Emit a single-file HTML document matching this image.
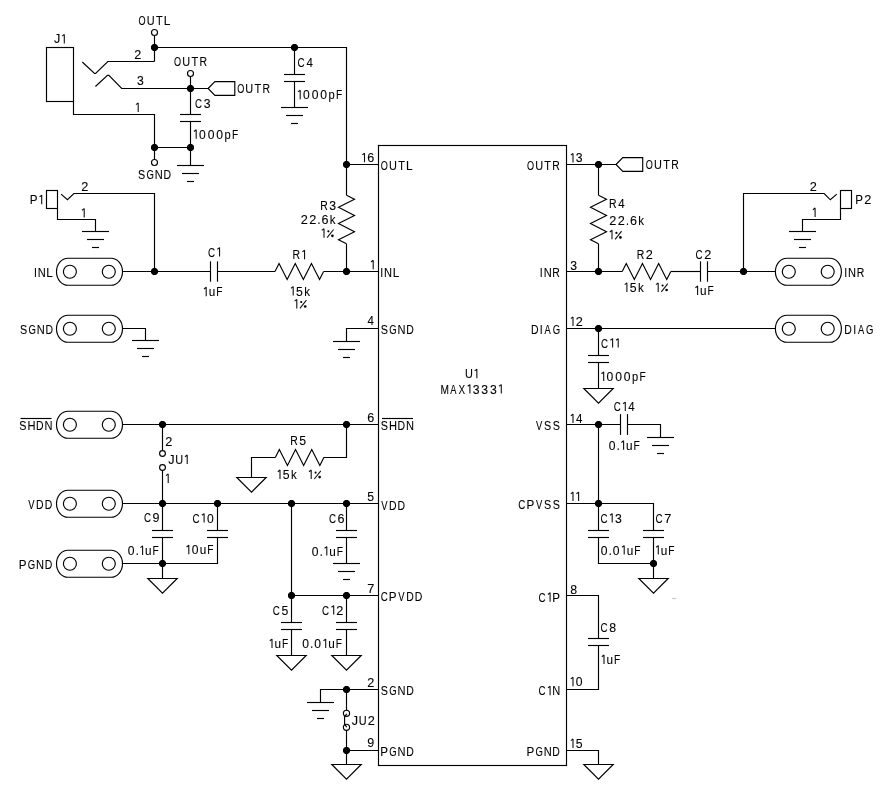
<!DOCTYPE html>
<html><head><meta charset="utf-8"><style>
html,body{margin:0;padding:0;background:#fff;overflow:hidden;width:884px;height:793px;}
svg{display:block;will-change:transform;}
text{font-family:"Liberation Sans",sans-serif;font-size:13.4px;fill:#000;stroke:#000;stroke-width:0.1px;}
</style></head><body>
<svg width="884" height="793" viewBox="0 0 884 793">
<rect width="884" height="793" fill="#fff"/>
<g fill="none" stroke="#000" stroke-width="1.15" stroke-linejoin="miter">
<text transform="translate(138.57 25.00) scale(0.678 1)">O</text>
<text transform="translate(146.76 25.00) scale(0.815 1)">U</text>
<text transform="translate(155.95 25.00) scale(0.818 1)">T</text>
<text transform="translate(163.83 25.00) scale(0.880 1)">L</text>
<circle cx="154.50" cy="32.50" r="3"/>
<path d="M154.50 35.50 L154.50 61.50"/>
<path d="M154.50 47.50 L346.50 47.50 L346.50 195.20"/>
<path fill="#000" stroke="none" d="M153.00 44.00 L156.00 44.00 L158.00 46.00 L158.00 49.00 L156.00 51.00 L153.00 51.00 L151.00 49.00 L151.00 46.00Z"/>
<path fill="#000" stroke="none" d="M293.00 44.00 L296.00 44.00 L298.00 46.00 L298.00 49.00 L296.00 51.00 L293.00 51.00 L291.00 49.00 L291.00 46.00Z"/>
<path d="M294.50 47.50 L294.50 74.50"/>
<path d="M284.00 74.50 L305.00 74.50"/>
<path d="M284.00 81.50 L305.00 81.50"/>
<path d="M294.50 81.50 L294.50 107.50"/>
<path d="M281.00 107.50 L308.00 107.50"/>
<path d="M286.00 115.50 L303.00 115.50"/>
<path d="M291.00 123.50 L298.00 123.50"/>
<text transform="translate(297.50 66.60) scale(0.731 1)">C</text>
<text transform="translate(306.54 66.60) scale(0.859 1)">4</text>
<path stroke="#111" stroke-width="1.1" stroke-linejoin="bevel" d="M300.20 99.20 L300.20 90.20 L298.00 91.90"/>
<text transform="translate(303.03 99.20) scale(0.905 1)">0</text>
<text transform="translate(311.63 99.20) scale(0.905 1)">0</text>
<text transform="translate(320.23 99.20) scale(0.905 1)">0</text>
<text transform="translate(328.48 99.20) scale(0.830 1)">p</text>
<text transform="translate(335.96 99.20) scale(0.763 1)">F</text>
<path d="M82.30 62.00 L94.50 73.50 L95.60 73.50 L107.80 61.50 L154.50 61.50"/>
<text transform="translate(134.36 58.60) scale(0.950 1)">2</text>
<path d="M95.40 86.50 L107.50 75.40 L108.90 75.40 L121.70 88.50 L208.10 88.50"/>
<text transform="translate(137.03 85.40) scale(0.913 1)">3</text>
<text transform="translate(174.07 66.20) scale(0.678 1)">O</text>
<text transform="translate(182.26 66.20) scale(0.815 1)">U</text>
<text transform="translate(191.45 66.20) scale(0.818 1)">T</text>
<text transform="translate(199.44 66.20) scale(0.779 1)">R</text>
<circle cx="190.50" cy="73.50" r="3"/>
<path d="M190.50 76.50 L190.50 114.50"/>
<path fill="#000" stroke="none" d="M189.00 85.00 L192.00 85.00 L194.00 87.00 L194.00 90.00 L192.00 92.00 L189.00 92.00 L187.00 90.00 L187.00 87.00Z"/>
<path d="M208.10 88.50 L214.90 81.60 L234.80 81.60 L234.80 95.40 L214.90 95.40Z"/>
<text transform="translate(237.17 93.40) scale(0.678 1)">O</text>
<text transform="translate(245.36 93.40) scale(0.815 1)">U</text>
<text transform="translate(254.55 93.40) scale(0.818 1)">T</text>
<text transform="translate(262.54 93.40) scale(0.779 1)">R</text>
<path d="M180.00 114.50 L201.00 114.50"/>
<path d="M180.00 121.50 L201.00 121.50"/>
<path d="M190.50 121.50 L190.50 165.50"/>
<path d="M177.00 165.50 L204.00 165.50"/>
<path d="M182.00 173.50 L199.00 173.50"/>
<path d="M187.00 181.50 L194.00 181.50"/>
<text transform="translate(195.00 108.10) scale(0.731 1)">C</text>
<text transform="translate(203.83 108.10) scale(0.913 1)">3</text>
<path stroke="#111" stroke-width="1.1" stroke-linejoin="bevel" d="M196.20 138.80 L196.20 129.80 L194.00 131.50"/>
<text transform="translate(199.03 138.80) scale(0.905 1)">0</text>
<text transform="translate(207.63 138.80) scale(0.905 1)">0</text>
<text transform="translate(216.23 138.80) scale(0.905 1)">0</text>
<text transform="translate(224.48 138.80) scale(0.830 1)">p</text>
<text transform="translate(231.96 138.80) scale(0.763 1)">F</text>
<rect x="46.5" y="47.5" width="27" height="54"/>
<text transform="translate(54.00 43.40) scale(0.946 1)">J</text>
<path stroke="#111" stroke-width="1.1" stroke-linejoin="bevel" d="M64.30 43.40 L64.30 34.40 L62.10 36.10"/>
<path d="M73.50 101.50 L73.50 114.50 L154.50 114.50 L154.50 159.50"/>
<path stroke="#111" stroke-width="1.1" stroke-linejoin="bevel" d="M138.20 111.90 L138.20 102.90 L136.00 104.60"/>
<path d="M154.50 147.50 L190.50 147.50"/>
<path fill="#000" stroke="none" d="M153.00 144.00 L156.00 144.00 L158.00 146.00 L158.00 149.00 L156.00 151.00 L153.00 151.00 L151.00 149.00 L151.00 146.00Z"/>
<path fill="#000" stroke="none" d="M189.00 144.00 L192.00 144.00 L194.00 146.00 L194.00 149.00 L192.00 151.00 L189.00 151.00 L187.00 149.00 L187.00 146.00Z"/>
<circle cx="154.50" cy="162.50" r="3"/>
<text transform="translate(138.01 179.20) scale(0.804 1)">S</text>
<text transform="translate(146.62 179.20) scale(0.709 1)">G</text>
<text transform="translate(154.79 179.20) scale(0.828 1)">N</text>
<text transform="translate(163.44 179.20) scale(0.781 1)">D</text>
<rect x="46.5" y="190.5" width="11" height="18"/>
<text transform="translate(29.64 204.20) scale(0.869 1)">P</text>
<path stroke="#111" stroke-width="1.1" stroke-linejoin="bevel" d="M41.70 204.20 L41.70 195.20 L39.50 196.90"/>
<path d="M61.10 194.10 L67.40 199.60 L73.90 193.50 L154.50 193.50 L154.50 271.50"/>
<text transform="translate(81.36 191.00) scale(0.950 1)">2</text>
<path d="M57.50 208.50 L57.50 219.50 L95.50 219.50 L95.50 231.50"/>
<path d="M82.00 231.50 L109.00 231.50"/>
<path d="M87.00 239.50 L104.00 239.50"/>
<path d="M92.00 247.50 L99.00 247.50"/>
<path stroke="#111" stroke-width="1.1" stroke-linejoin="bevel" d="M84.20 217.60 L84.20 208.60 L82.00 210.30"/>
<path d="M68.00 258.25 L111.00 258.25 A11.5 13.5 0 0 1 111.00 285.25 L68.00 285.25 A11.5 13.5 0 0 1 68.00 258.25Z"/>
<circle cx="69.90" cy="271.75" r="6.5"/>
<circle cx="108.80" cy="271.75" r="6.5"/>
<text transform="translate(33.93 276.60) scale(0.790 1)">I</text>
<text transform="translate(37.79 276.60) scale(0.828 1)">N</text>
<text transform="translate(46.33 276.60) scale(0.880 1)">L</text>
<path d="M122.50 271.50 L210.50 271.50"/>
<path fill="#000" stroke="none" d="M153.00 268.00 L156.00 268.00 L158.00 270.00 L158.00 273.00 L156.00 275.00 L153.00 275.00 L151.00 273.00 L151.00 270.00Z"/>
<path d="M210.50 261.30 L210.50 281.70"/>
<path d="M217.50 261.30 L217.50 281.70"/>
<text transform="translate(207.95 256.60) scale(0.731 1)">C</text>
<path stroke="#111" stroke-width="1.1" stroke-linejoin="bevel" d="M219.55 256.60 L219.55 247.60 L217.35 249.30"/>
<path stroke="#111" stroke-width="1.1" stroke-linejoin="bevel" d="M206.20 296.30 L206.20 287.30 L204.00 289.00"/>
<text transform="translate(208.64 296.30) scale(0.878 1)">u</text>
<text transform="translate(216.16 296.30) scale(0.763 1)">F</text>
<path d="M217.50 271.50 L275.00 271.50"/>
<path d="M275.00 271.50 L279.05 263.50 L287.15 279.50 L295.25 263.50 L303.35 279.50 L311.45 263.50 L319.55 279.50 L323.60 271.50"/>
<path d="M323.60 271.50 L378.50 271.50"/>
<text transform="translate(292.59 259.20) scale(0.779 1)">R</text>
<path stroke="#111" stroke-width="1.1" stroke-linejoin="bevel" d="M304.55 259.20 L304.55 250.20 L302.35 251.90"/>
<path stroke="#111" stroke-width="1.1" stroke-linejoin="bevel" d="M293.20 295.60 L293.20 286.60 L291.00 288.30"/>
<text transform="translate(296.01 295.60) scale(0.913 1)">5</text>
<text transform="translate(304.22 295.60) scale(0.860 1)">k</text>
<path stroke="#111" stroke-width="1.1" stroke-linejoin="bevel" d="M296.80 308.40 L296.80 299.40 L294.60 301.10"/>
<path stroke="#111" stroke-width="1.1" stroke-linejoin="bevel" d="M299.90 308.40 L306.40 300.20"/>
<circle fill="#000" stroke="none" cx="301.20" cy="302.00" r="1.1"/>
<circle fill="#000" stroke="none" cx="305.20" cy="306.50" r="1.35"/>
<path fill="#000" stroke="none" d="M345.00 268.00 L348.00 268.00 L350.00 270.00 L350.00 273.00 L348.00 275.00 L345.00 275.00 L343.00 273.00 L343.00 270.00Z"/>
<path d="M346.50 195.20 L354.50 199.25 L338.50 207.35 L354.50 215.45 L338.50 223.55 L354.50 231.65 L338.50 239.75 L346.50 243.80"/>
<path d="M346.50 243.80 L346.50 271.50"/>
<path d="M346.50 164.50 L378.50 164.50"/>
<path fill="#000" stroke="none" d="M345.00 161.00 L348.00 161.00 L350.00 163.00 L350.00 166.00 L348.00 168.00 L345.00 168.00 L343.00 166.00 L343.00 163.00Z"/>
<text transform="translate(320.14 209.50) scale(0.779 1)">R</text>
<text transform="translate(329.33 209.50) scale(0.913 1)">3</text>
<text transform="translate(300.66 223.80) scale(0.950 1)">2</text>
<text transform="translate(309.26 223.80) scale(0.950 1)">2</text>
<text transform="translate(317.43 223.80) scale(0.790 1)">.</text>
<text transform="translate(321.46 223.80) scale(0.938 1)">6</text>
<text transform="translate(329.82 223.80) scale(0.860 1)">k</text>
<path stroke="#111" stroke-width="1.1" stroke-linejoin="bevel" d="M324.00 237.70 L324.00 228.70 L321.80 230.40"/>
<path stroke="#111" stroke-width="1.1" stroke-linejoin="bevel" d="M327.10 237.70 L333.60 229.50"/>
<circle fill="#000" stroke="none" cx="328.40" cy="231.30" r="1.1"/>
<circle fill="#000" stroke="none" cx="332.40" cy="235.80" r="1.35"/>
<path d="M68.00 315.25 L111.00 315.25 A11.5 13.5 0 0 1 111.00 342.25 L68.00 342.25 A11.5 13.5 0 0 1 68.00 315.25Z"/>
<circle cx="69.90" cy="328.75" r="6.5"/>
<circle cx="108.80" cy="328.75" r="6.5"/>
<text transform="translate(20.01 334.10) scale(0.804 1)">S</text>
<text transform="translate(28.62 334.10) scale(0.709 1)">G</text>
<text transform="translate(36.79 334.10) scale(0.828 1)">N</text>
<text transform="translate(45.44 334.10) scale(0.781 1)">D</text>
<path d="M122.50 328.50 L145.50 328.50 L145.50 340.50"/>
<path d="M132.00 340.50 L159.00 340.50"/>
<path d="M137.00 348.50 L154.00 348.50"/>
<path d="M142.00 356.50 L149.00 356.50"/>
<path d="M378.50 328.50 L346.50 328.50 L346.50 341.50"/>
<path d="M333.00 341.50 L360.00 341.50"/>
<path d="M338.00 349.50 L355.00 349.50"/>
<path d="M343.00 357.50 L350.00 357.50"/>
<rect x="378.5" y="145.5" width="188" height="620"/>
<path stroke="#111" stroke-width="1.1" stroke-linejoin="bevel" d="M364.50 162.20 L364.50 153.20 L362.30 154.90"/>
<text transform="translate(367.16 162.20) scale(0.938 1)">6</text>
<path stroke="#111" stroke-width="1.1" stroke-linejoin="bevel" d="M373.20 269.30 L373.20 260.30 L371.00 262.00"/>
<text transform="translate(367.54 324.80) scale(0.859 1)">4</text>
<text transform="translate(367.16 422.00) scale(0.938 1)">6</text>
<text transform="translate(367.31 500.80) scale(0.913 1)">5</text>
<text transform="translate(367.15 592.50) scale(0.952 1)">7</text>
<text transform="translate(367.16 686.50) scale(0.950 1)">2</text>
<text transform="translate(367.21 747.10) scale(0.937 1)">9</text>
<path stroke="#111" stroke-width="1.1" stroke-linejoin="bevel" d="M573.00 162.40 L573.00 153.40 L570.80 155.10"/>
<text transform="translate(575.83 162.40) scale(0.913 1)">3</text>
<text transform="translate(570.33 269.60) scale(0.913 1)">3</text>
<path stroke="#111" stroke-width="1.1" stroke-linejoin="bevel" d="M573.00 325.90 L573.00 316.90 L570.80 318.60"/>
<text transform="translate(575.66 325.90) scale(0.950 1)">2</text>
<path stroke="#111" stroke-width="1.1" stroke-linejoin="bevel" d="M573.00 423.10 L573.00 414.10 L570.80 415.80"/>
<text transform="translate(576.04 423.10) scale(0.859 1)">4</text>
<path stroke="#111" stroke-width="1.1" stroke-linejoin="bevel" d="M573.00 501.10 L573.00 492.10 L570.80 493.80"/>
<path stroke="#111" stroke-width="1.1" stroke-linejoin="bevel" d="M578.60 501.10 L578.60 492.10 L576.40 493.80"/>
<text transform="translate(570.26 593.90) scale(0.922 1)">8</text>
<path stroke="#111" stroke-width="1.1" stroke-linejoin="bevel" d="M573.00 686.20 L573.00 677.20 L570.80 678.90"/>
<text transform="translate(575.83 686.20) scale(0.905 1)">0</text>
<path stroke="#111" stroke-width="1.1" stroke-linejoin="bevel" d="M573.00 747.90 L573.00 738.90 L570.80 740.60"/>
<text transform="translate(575.81 747.90) scale(0.913 1)">5</text>
<text transform="translate(380.77 169.80) scale(0.678 1)">O</text>
<text transform="translate(388.96 169.80) scale(0.815 1)">U</text>
<text transform="translate(398.15 169.80) scale(0.818 1)">T</text>
<text transform="translate(406.03 169.80) scale(0.880 1)">L</text>
<text transform="translate(380.22 276.80) scale(0.790 1)">I</text>
<text transform="translate(384.08 276.80) scale(0.828 1)">N</text>
<text transform="translate(392.63 276.80) scale(0.880 1)">L</text>
<text transform="translate(380.71 333.60) scale(0.804 1)">S</text>
<text transform="translate(389.32 333.60) scale(0.709 1)">G</text>
<text transform="translate(397.49 333.60) scale(0.828 1)">N</text>
<text transform="translate(406.14 333.60) scale(0.781 1)">D</text>
<text transform="translate(380.71 429.60) scale(0.804 1)">S</text>
<text transform="translate(388.89 429.60) scale(0.828 1)">H</text>
<text transform="translate(397.54 429.60) scale(0.781 1)">D</text>
<text transform="translate(406.09 429.60) scale(0.828 1)">N</text>
<text transform="translate(381.16 509.60) scale(0.703 1)">V</text>
<text transform="translate(388.94 509.60) scale(0.781 1)">D</text>
<text transform="translate(397.54 509.60) scale(0.781 1)">D</text>
<text transform="translate(380.70 601.10) scale(0.731 1)">C</text>
<text transform="translate(388.84 601.10) scale(0.869 1)">P</text>
<text transform="translate(398.36 601.10) scale(0.703 1)">V</text>
<text transform="translate(406.14 601.10) scale(0.781 1)">D</text>
<text transform="translate(414.74 601.10) scale(0.781 1)">D</text>
<text transform="translate(380.71 694.60) scale(0.804 1)">S</text>
<text transform="translate(389.32 694.60) scale(0.709 1)">G</text>
<text transform="translate(397.49 694.60) scale(0.828 1)">N</text>
<text transform="translate(406.14 694.60) scale(0.781 1)">D</text>
<text transform="translate(380.24 755.60) scale(0.869 1)">P</text>
<text transform="translate(389.32 755.60) scale(0.709 1)">G</text>
<text transform="translate(397.49 755.60) scale(0.828 1)">N</text>
<text transform="translate(406.14 755.60) scale(0.781 1)">D</text>
<path d="M382.00 418.50 L413.00 418.50"/>
<text transform="translate(526.97 170.00) scale(0.678 1)">O</text>
<text transform="translate(535.16 170.00) scale(0.815 1)">U</text>
<text transform="translate(544.35 170.00) scale(0.818 1)">T</text>
<text transform="translate(552.34 170.00) scale(0.779 1)">R</text>
<text transform="translate(539.83 277.20) scale(0.790 1)">I</text>
<text transform="translate(543.69 277.20) scale(0.828 1)">N</text>
<text transform="translate(552.34 277.20) scale(0.779 1)">R</text>
<text transform="translate(530.94 333.80) scale(0.781 1)">D</text>
<text transform="translate(539.83 333.80) scale(0.790 1)">I</text>
<text transform="translate(544.58 333.80) scale(0.698 1)">A</text>
<text transform="translate(552.72 333.80) scale(0.709 1)">G</text>
<text transform="translate(535.96 430.40) scale(0.703 1)">V</text>
<text transform="translate(544.11 430.40) scale(0.804 1)">S</text>
<text transform="translate(552.71 430.40) scale(0.804 1)">S</text>
<text transform="translate(518.30 509.00) scale(0.731 1)">C</text>
<text transform="translate(526.44 509.00) scale(0.869 1)">P</text>
<text transform="translate(535.96 509.00) scale(0.703 1)">V</text>
<text transform="translate(544.11 509.00) scale(0.804 1)">S</text>
<text transform="translate(552.71 509.00) scale(0.804 1)">S</text>
<text transform="translate(538.50 601.80) scale(0.731 1)">C</text>
<path stroke="#111" stroke-width="1.1" stroke-linejoin="bevel" d="M550.10 601.80 L550.10 592.80 L547.90 594.50"/>
<text transform="translate(552.24 601.80) scale(0.869 1)">P</text>
<text transform="translate(538.50 695.20) scale(0.731 1)">C</text>
<path stroke="#111" stroke-width="1.1" stroke-linejoin="bevel" d="M550.10 695.20 L550.10 686.20 L547.90 687.90"/>
<text transform="translate(552.29 695.20) scale(0.828 1)">N</text>
<text transform="translate(526.44 756.30) scale(0.869 1)">P</text>
<text transform="translate(535.52 756.30) scale(0.709 1)">G</text>
<text transform="translate(543.69 756.30) scale(0.828 1)">N</text>
<text transform="translate(552.34 756.30) scale(0.781 1)">D</text>
<text transform="translate(464.91 378.20) scale(0.815 1)">U</text>
<path stroke="#111" stroke-width="1.1" stroke-linejoin="bevel" d="M476.85 378.20 L476.85 369.20 L474.65 370.90"/>
<text transform="translate(440.47 393.60) scale(0.759 1)">M</text>
<text transform="translate(450.18 393.60) scale(0.698 1)">A</text>
<text transform="translate(458.58 393.60) scale(0.742 1)">X</text>
<path stroke="#111" stroke-width="1.1" stroke-linejoin="bevel" d="M469.90 393.60 L469.90 384.60 L467.70 386.30"/>
<text transform="translate(472.73 393.60) scale(0.913 1)">3</text>
<text transform="translate(481.33 393.60) scale(0.913 1)">3</text>
<text transform="translate(489.93 393.60) scale(0.913 1)">3</text>
<path stroke="#111" stroke-width="1.1" stroke-linejoin="bevel" d="M501.30 393.60 L501.30 384.60 L499.10 386.30"/>
<path d="M68.00 411.25 L111.00 411.25 A11.5 13.5 0 0 1 111.00 438.25 L68.00 438.25 A11.5 13.5 0 0 1 68.00 411.25Z"/>
<circle cx="69.90" cy="424.75" r="6.5"/>
<circle cx="108.80" cy="424.75" r="6.5"/>
<text transform="translate(19.21 430.00) scale(0.804 1)">S</text>
<text transform="translate(27.39 430.00) scale(0.828 1)">H</text>
<text transform="translate(36.04 430.00) scale(0.781 1)">D</text>
<text transform="translate(44.59 430.00) scale(0.828 1)">N</text>
<path d="M20.50 418.50 L51.50 418.50"/>
<path d="M122.50 424.50 L378.50 424.50"/>
<path fill="#000" stroke="none" d="M161.00 421.00 L164.00 421.00 L166.00 423.00 L166.00 426.00 L164.00 428.00 L161.00 428.00 L159.00 426.00 L159.00 423.00Z"/>
<path fill="#000" stroke="none" d="M345.00 421.00 L348.00 421.00 L350.00 423.00 L350.00 426.00 L348.00 428.00 L345.00 428.00 L343.00 426.00 L343.00 423.00Z"/>
<path d="M162.50 424.50 L162.50 450.60"/>
<circle cx="162.50" cy="453.50" r="2.9"/>
<circle cx="162.50" cy="467.50" r="2.9"/>
<path d="M162.50 470.40 L162.50 503.50"/>
<text transform="translate(165.36 446.40) scale(0.950 1)">2</text>
<text transform="translate(168.30 464.00) scale(0.946 1)">J</text>
<text transform="translate(175.26 464.00) scale(0.815 1)">U</text>
<path stroke="#111" stroke-width="1.1" stroke-linejoin="bevel" d="M187.20 464.00 L187.20 455.00 L185.00 456.70"/>
<path stroke="#111" stroke-width="1.1" stroke-linejoin="bevel" d="M168.20 482.90 L168.20 473.90 L166.00 475.60"/>
<path d="M346.50 424.50 L346.50 457.50 L323.70 457.50"/>
<path d="M275.30 457.50 L279.35 449.50 L287.45 465.50 L295.55 449.50 L303.65 465.50 L311.75 449.50 L319.85 465.50 L323.90 457.50"/>
<path d="M275.30 457.50 L251.50 457.50 L251.50 477.50"/>
<path d="M236.80 477.50 L266.20 477.50 L251.50 492.10Z"/>
<text transform="translate(290.14 444.50) scale(0.779 1)">R</text>
<text transform="translate(299.31 444.50) scale(0.913 1)">5</text>
<path stroke="#111" stroke-width="1.1" stroke-linejoin="bevel" d="M280.00 479.00 L280.00 470.00 L277.80 471.70"/>
<text transform="translate(282.81 479.00) scale(0.913 1)">5</text>
<text transform="translate(291.02 479.00) scale(0.860 1)">k</text>
<path stroke="#111" stroke-width="1.1" stroke-linejoin="bevel" d="M311.20 479.00 L311.20 470.00 L309.00 471.70"/>
<path stroke="#111" stroke-width="1.1" stroke-linejoin="bevel" d="M314.30 479.00 L320.80 470.80"/>
<circle fill="#000" stroke="none" cx="315.60" cy="472.60" r="1.1"/>
<circle fill="#000" stroke="none" cx="319.60" cy="477.10" r="1.35"/>
<path d="M68.00 490.25 L111.00 490.25 A11.5 13.5 0 0 1 111.00 517.25 L68.00 517.25 A11.5 13.5 0 0 1 68.00 490.25Z"/>
<circle cx="69.90" cy="503.75" r="6.5"/>
<circle cx="108.80" cy="503.75" r="6.5"/>
<text transform="translate(28.26 508.90) scale(0.703 1)">V</text>
<text transform="translate(36.04 508.90) scale(0.781 1)">D</text>
<text transform="translate(44.64 508.90) scale(0.781 1)">D</text>
<path d="M122.50 503.50 L378.50 503.50"/>
<path fill="#000" stroke="none" d="M161.00 500.00 L164.00 500.00 L166.00 502.00 L166.00 505.00 L164.00 507.00 L161.00 507.00 L159.00 505.00 L159.00 502.00Z"/>
<path fill="#000" stroke="none" d="M216.00 500.00 L219.00 500.00 L221.00 502.00 L221.00 505.00 L219.00 507.00 L216.00 507.00 L214.00 505.00 L214.00 502.00Z"/>
<path fill="#000" stroke="none" d="M290.00 500.00 L293.00 500.00 L295.00 502.00 L295.00 505.00 L293.00 507.00 L290.00 507.00 L288.00 505.00 L288.00 502.00Z"/>
<path fill="#000" stroke="none" d="M345.00 500.00 L348.00 500.00 L350.00 502.00 L350.00 505.00 L348.00 507.00 L345.00 507.00 L343.00 505.00 L343.00 502.00Z"/>
<path d="M162.50 503.50 L162.50 530.50"/>
<path d="M152.00 530.50 L173.00 530.50"/>
<path d="M152.00 537.50 L173.00 537.50"/>
<path d="M162.50 537.50 L162.50 578.50"/>
<path d="M147.80 578.50 L177.20 578.50 L162.50 593.10Z"/>
<text transform="translate(143.90 522.10) scale(0.731 1)">C</text>
<text transform="translate(152.61 522.10) scale(0.937 1)">9</text>
<text transform="translate(127.63 554.90) scale(0.905 1)">0</text>
<text transform="translate(135.63 554.90) scale(0.790 1)">.</text>
<path stroke="#111" stroke-width="1.1" stroke-linejoin="bevel" d="M142.60 554.90 L142.60 545.90 L140.40 547.60"/>
<text transform="translate(145.04 554.90) scale(0.878 1)">u</text>
<text transform="translate(152.56 554.90) scale(0.763 1)">F</text>
<path d="M217.50 503.50 L217.50 530.50"/>
<path d="M207.00 530.50 L228.00 530.50"/>
<path d="M207.00 537.50 L228.00 537.50"/>
<path d="M217.50 537.50 L217.50 563.50 L122.50 563.50"/>
<path fill="#000" stroke="none" d="M161.00 560.00 L164.00 560.00 L166.00 562.00 L166.00 565.00 L164.00 567.00 L161.00 567.00 L159.00 565.00 L159.00 562.00Z"/>
<text transform="translate(192.50 522.60) scale(0.731 1)">C</text>
<path stroke="#111" stroke-width="1.1" stroke-linejoin="bevel" d="M204.10 522.60 L204.10 513.60 L201.90 515.30"/>
<text transform="translate(206.93 522.60) scale(0.905 1)">0</text>
<path stroke="#111" stroke-width="1.1" stroke-linejoin="bevel" d="M188.80 554.30 L188.80 545.30 L186.60 547.00"/>
<text transform="translate(191.63 554.30) scale(0.905 1)">0</text>
<text transform="translate(199.84 554.30) scale(0.878 1)">u</text>
<text transform="translate(207.36 554.30) scale(0.763 1)">F</text>
<path d="M68.00 550.25 L111.00 550.25 A11.5 13.5 0 0 1 111.00 577.25 L68.00 577.25 A11.5 13.5 0 0 1 68.00 550.25Z"/>
<circle cx="69.90" cy="563.75" r="6.5"/>
<circle cx="108.80" cy="563.75" r="6.5"/>
<text transform="translate(18.74 568.60) scale(0.869 1)">P</text>
<text transform="translate(27.82 568.60) scale(0.709 1)">G</text>
<text transform="translate(35.99 568.60) scale(0.828 1)">N</text>
<text transform="translate(44.64 568.60) scale(0.781 1)">D</text>
<path d="M346.50 503.50 L346.50 530.50"/>
<path d="M336.00 530.50 L357.00 530.50"/>
<path d="M336.00 537.50 L357.00 537.50"/>
<path d="M346.50 537.50 L346.50 563.50"/>
<path d="M333.00 563.50 L360.00 563.50"/>
<path d="M338.00 571.50 L355.00 571.50"/>
<path d="M343.00 579.50 L350.00 579.50"/>
<text transform="translate(328.90 523.40) scale(0.731 1)">C</text>
<text transform="translate(337.56 523.40) scale(0.938 1)">6</text>
<text transform="translate(311.83 555.60) scale(0.905 1)">0</text>
<text transform="translate(319.83 555.60) scale(0.790 1)">.</text>
<path stroke="#111" stroke-width="1.1" stroke-linejoin="bevel" d="M326.80 555.60 L326.80 546.60 L324.60 548.30"/>
<text transform="translate(329.24 555.60) scale(0.878 1)">u</text>
<text transform="translate(336.76 555.60) scale(0.763 1)">F</text>
<path d="M291.50 503.50 L291.50 622.50"/>
<path d="M281.00 622.50 L302.00 622.50"/>
<path d="M281.00 629.50 L302.00 629.50"/>
<path d="M291.50 629.50 L291.50 655.50"/>
<path d="M276.80 655.50 L306.20 655.50 L291.50 670.10Z"/>
<text transform="translate(272.70 614.60) scale(0.731 1)">C</text>
<text transform="translate(281.51 614.60) scale(0.913 1)">5</text>
<path stroke="#111" stroke-width="1.1" stroke-linejoin="bevel" d="M272.00 648.10 L272.00 639.10 L269.80 640.80"/>
<text transform="translate(274.44 648.10) scale(0.878 1)">u</text>
<text transform="translate(281.96 648.10) scale(0.763 1)">F</text>
<path d="M291.50 595.50 L378.50 595.50"/>
<path fill="#000" stroke="none" d="M290.00 592.00 L293.00 592.00 L295.00 594.00 L295.00 597.00 L293.00 599.00 L290.00 599.00 L288.00 597.00 L288.00 594.00Z"/>
<path fill="#000" stroke="none" d="M345.00 592.00 L348.00 592.00 L350.00 594.00 L350.00 597.00 L348.00 599.00 L345.00 599.00 L343.00 597.00 L343.00 594.00Z"/>
<path d="M346.50 595.50 L346.50 622.50"/>
<path d="M336.00 622.50 L357.00 622.50"/>
<path d="M336.00 629.50 L357.00 629.50"/>
<path d="M346.50 629.50 L346.50 655.50"/>
<path d="M331.80 655.50 L361.20 655.50 L346.50 670.10Z"/>
<text transform="translate(322.10 614.60) scale(0.731 1)">C</text>
<path stroke="#111" stroke-width="1.1" stroke-linejoin="bevel" d="M333.70 614.60 L333.70 605.60 L331.50 607.30"/>
<text transform="translate(336.36 614.60) scale(0.950 1)">2</text>
<text transform="translate(302.13 648.10) scale(0.905 1)">0</text>
<text transform="translate(310.13 648.10) scale(0.790 1)">.</text>
<text transform="translate(314.33 648.10) scale(0.905 1)">0</text>
<path stroke="#111" stroke-width="1.1" stroke-linejoin="bevel" d="M325.70 648.10 L325.70 639.10 L323.50 640.80"/>
<text transform="translate(328.14 648.10) scale(0.878 1)">u</text>
<text transform="translate(335.66 648.10) scale(0.763 1)">F</text>
<path d="M378.50 689.50 L320.50 689.50 L320.50 702.50"/>
<path d="M307.00 702.50 L334.00 702.50"/>
<path d="M312.00 710.50 L329.00 710.50"/>
<path d="M317.00 718.50 L324.00 718.50"/>
<path fill="#000" stroke="none" d="M345.00 686.00 L348.00 686.00 L350.00 688.00 L350.00 691.00 L348.00 693.00 L345.00 693.00 L343.00 691.00 L343.00 688.00Z"/>
<path d="M346.50 689.50 L346.50 710.20"/>
<circle cx="346.50" cy="713.30" r="3.1"/>
<circle cx="346.50" cy="727.30" r="3.1"/>
<path d="M346.8 713.8 L344.6 716.6 L344.6 724.3 L346.8 727.2"/>
<path d="M346.50 730.40 L346.50 764.50"/>
<path fill="#000" stroke="none" d="M345.00 747.00 L348.00 747.00 L350.00 749.00 L350.00 752.00 L348.00 754.00 L345.00 754.00 L343.00 752.00 L343.00 749.00Z"/>
<path d="M346.50 750.50 L378.50 750.50"/>
<path d="M331.80 764.50 L361.20 764.50 L346.50 779.10Z"/>
<text transform="translate(351.70 724.60) scale(0.946 1)">J</text>
<text transform="translate(358.66 724.60) scale(0.815 1)">U</text>
<text transform="translate(367.66 724.60) scale(0.950 1)">2</text>
<path d="M566.50 164.50 L616.00 164.50"/>
<path fill="#000" stroke="none" d="M597.00 161.00 L600.00 161.00 L602.00 163.00 L602.00 166.00 L600.00 168.00 L597.00 168.00 L595.00 166.00 L595.00 163.00Z"/>
<path d="M616.00 164.50 L622.80 157.60 L642.70 157.60 L642.70 171.40 L622.80 171.40Z"/>
<text transform="translate(645.87 168.60) scale(0.678 1)">O</text>
<text transform="translate(654.06 168.60) scale(0.815 1)">U</text>
<text transform="translate(663.25 168.60) scale(0.818 1)">T</text>
<text transform="translate(671.24 168.60) scale(0.779 1)">R</text>
<path d="M598.50 195.20 L606.50 199.25 L590.50 207.35 L606.50 215.45 L590.50 223.55 L606.50 231.65 L590.50 239.75 L598.50 243.80"/>
<path d="M598.50 164.50 L598.50 195.20"/>
<path d="M598.50 243.80 L598.50 271.50"/>
<text transform="translate(608.94 208.30) scale(0.779 1)">R</text>
<text transform="translate(618.34 208.30) scale(0.859 1)">4</text>
<text transform="translate(609.16 225.00) scale(0.950 1)">2</text>
<text transform="translate(617.76 225.00) scale(0.950 1)">2</text>
<text transform="translate(625.93 225.00) scale(0.790 1)">.</text>
<text transform="translate(629.96 225.00) scale(0.938 1)">6</text>
<text transform="translate(638.32 225.00) scale(0.860 1)">k</text>
<path stroke="#111" stroke-width="1.1" stroke-linejoin="bevel" d="M612.00 239.30 L612.00 230.30 L609.80 232.00"/>
<path stroke="#111" stroke-width="1.1" stroke-linejoin="bevel" d="M615.10 239.30 L621.60 231.10"/>
<circle fill="#000" stroke="none" cx="616.40" cy="232.90" r="1.1"/>
<circle fill="#000" stroke="none" cx="620.40" cy="237.40" r="1.35"/>
<path d="M566.50 271.50 L622.20 271.50"/>
<path d="M622.20 271.50 L626.25 263.50 L634.35 279.50 L642.45 263.50 L650.55 279.50 L658.65 263.50 L666.75 279.50 L670.80 271.50"/>
<path d="M670.80 271.50 L700.50 271.50"/>
<path d="M700.50 261.30 L700.50 281.70"/>
<path d="M707.50 261.30 L707.50 281.70"/>
<path d="M707.50 271.50 L775.30 271.50"/>
<path fill="#000" stroke="none" d="M597.00 268.00 L600.00 268.00 L602.00 270.00 L602.00 273.00 L600.00 275.00 L597.00 275.00 L595.00 273.00 L595.00 270.00Z"/>
<path fill="#000" stroke="none" d="M742.00 268.00 L745.00 268.00 L747.00 270.00 L747.00 273.00 L745.00 275.00 L742.00 275.00 L740.00 273.00 L740.00 270.00Z"/>
<text transform="translate(636.69 258.50) scale(0.779 1)">R</text>
<text transform="translate(645.71 258.50) scale(0.950 1)">2</text>
<path stroke="#111" stroke-width="1.1" stroke-linejoin="bevel" d="M626.90 291.90 L626.90 282.90 L624.70 284.60"/>
<text transform="translate(629.71 291.90) scale(0.913 1)">5</text>
<text transform="translate(637.92 291.90) scale(0.860 1)">k</text>
<path stroke="#111" stroke-width="1.1" stroke-linejoin="bevel" d="M658.20 291.90 L658.20 282.90 L656.00 284.60"/>
<path stroke="#111" stroke-width="1.1" stroke-linejoin="bevel" d="M661.30 291.90 L667.80 283.70"/>
<circle fill="#000" stroke="none" cx="662.60" cy="285.50" r="1.1"/>
<circle fill="#000" stroke="none" cx="666.60" cy="290.00" r="1.35"/>
<text transform="translate(695.50 258.50) scale(0.731 1)">C</text>
<text transform="translate(704.16 258.50) scale(0.950 1)">2</text>
<path stroke="#111" stroke-width="1.1" stroke-linejoin="bevel" d="M697.60 295.00 L697.60 286.00 L695.40 287.70"/>
<text transform="translate(700.04 295.00) scale(0.878 1)">u</text>
<text transform="translate(707.56 295.00) scale(0.763 1)">F</text>
<path d="M743.50 271.50 L743.50 193.50 L824.20 193.50 L830.30 199.80 L836.80 194.10"/>
<rect x="840.5" y="190.5" width="11" height="18"/>
<text transform="translate(855.24 204.20) scale(0.869 1)">P</text>
<text transform="translate(864.36 204.20) scale(0.950 1)">2</text>
<text transform="translate(809.66 191.00) scale(0.950 1)">2</text>
<path d="M840.50 208.50 L840.50 219.50 L802.50 219.50 L802.50 231.50"/>
<path d="M789.00 231.50 L816.00 231.50"/>
<path d="M794.00 239.50 L811.00 239.50"/>
<path d="M799.00 247.50 L806.00 247.50"/>
<path stroke="#111" stroke-width="1.1" stroke-linejoin="bevel" d="M815.10 217.00 L815.10 208.00 L812.90 209.70"/>
<path d="M786.90 258.25 L829.90 258.25 A11.5 13.5 0 0 1 829.90 285.25 L786.90 285.25 A11.5 13.5 0 0 1 786.90 258.25Z"/>
<circle cx="788.80" cy="271.75" r="6.5"/>
<circle cx="827.70" cy="271.75" r="6.5"/>
<text transform="translate(844.22 276.80) scale(0.790 1)">I</text>
<text transform="translate(848.08 276.80) scale(0.828 1)">N</text>
<text transform="translate(856.74 276.80) scale(0.779 1)">R</text>
<path d="M566.50 328.50 L775.30 328.50"/>
<path fill="#000" stroke="none" d="M597.00 325.00 L600.00 325.00 L602.00 327.00 L602.00 330.00 L600.00 332.00 L597.00 332.00 L595.00 330.00 L595.00 327.00Z"/>
<path d="M786.90 315.25 L829.90 315.25 A11.5 13.5 0 0 1 829.90 342.25 L786.90 342.25 A11.5 13.5 0 0 1 786.90 315.25Z"/>
<circle cx="788.80" cy="328.75" r="6.5"/>
<circle cx="827.70" cy="328.75" r="6.5"/>
<text transform="translate(844.34 333.60) scale(0.781 1)">D</text>
<text transform="translate(853.23 333.60) scale(0.790 1)">I</text>
<text transform="translate(857.98 333.60) scale(0.698 1)">A</text>
<text transform="translate(866.12 333.60) scale(0.709 1)">G</text>
<path d="M598.50 328.50 L598.50 355.50"/>
<path d="M588.00 355.50 L609.00 355.50"/>
<path d="M588.00 362.50 L609.00 362.50"/>
<path d="M598.50 362.50 L598.50 388.50"/>
<path d="M583.80 388.50 L613.20 388.50 L598.50 403.10Z"/>
<text transform="translate(601.00 347.60) scale(0.731 1)">C</text>
<path stroke="#111" stroke-width="1.1" stroke-linejoin="bevel" d="M612.60 347.60 L612.60 338.60 L610.40 340.30"/>
<path stroke="#111" stroke-width="1.1" stroke-linejoin="bevel" d="M618.20 347.60 L618.20 338.60 L616.00 340.30"/>
<path stroke="#111" stroke-width="1.1" stroke-linejoin="bevel" d="M603.70 381.00 L603.70 372.00 L601.50 373.70"/>
<text transform="translate(606.53 381.00) scale(0.905 1)">0</text>
<text transform="translate(615.13 381.00) scale(0.905 1)">0</text>
<text transform="translate(623.73 381.00) scale(0.905 1)">0</text>
<text transform="translate(631.98 381.00) scale(0.830 1)">p</text>
<text transform="translate(639.46 381.00) scale(0.763 1)">F</text>
<path d="M566.50 424.50 L620.50 424.50"/>
<path d="M620.50 414.10 L620.50 434.90"/>
<path d="M627.50 414.10 L627.50 434.90"/>
<path d="M627.50 424.50 L660.50 424.50 L660.50 437.50"/>
<path d="M647.00 437.50 L674.00 437.50"/>
<path d="M652.00 445.50 L669.00 445.50"/>
<path d="M657.00 453.50 L664.00 453.50"/>
<path fill="#000" stroke="none" d="M597.00 421.00 L600.00 421.00 L602.00 423.00 L602.00 426.00 L600.00 428.00 L597.00 428.00 L595.00 426.00 L595.00 423.00Z"/>
<text transform="translate(613.70 411.10) scale(0.731 1)">C</text>
<path stroke="#111" stroke-width="1.1" stroke-linejoin="bevel" d="M625.30 411.10 L625.30 402.10 L623.10 403.80"/>
<text transform="translate(628.34 411.10) scale(0.859 1)">4</text>
<text transform="translate(608.63 449.80) scale(0.905 1)">0</text>
<text transform="translate(616.63 449.80) scale(0.790 1)">.</text>
<path stroke="#111" stroke-width="1.1" stroke-linejoin="bevel" d="M623.60 449.80 L623.60 440.80 L621.40 442.50"/>
<text transform="translate(626.04 449.80) scale(0.878 1)">u</text>
<text transform="translate(633.56 449.80) scale(0.763 1)">F</text>
<path d="M598.50 424.50 L598.50 530.50"/>
<path fill="#000" stroke="none" d="M597.00 500.00 L600.00 500.00 L602.00 502.00 L602.00 505.00 L600.00 507.00 L597.00 507.00 L595.00 505.00 L595.00 502.00Z"/>
<path d="M566.50 503.50 L653.50 503.50 L653.50 530.50"/>
<path d="M588.00 530.50 L609.00 530.50"/>
<path d="M588.00 537.50 L609.00 537.50"/>
<path d="M643.00 530.50 L664.00 530.50"/>
<path d="M643.00 537.50 L664.00 537.50"/>
<path d="M598.50 537.50 L598.50 563.50 L653.50 563.50"/>
<path d="M653.50 537.50 L653.50 578.50"/>
<path fill="#000" stroke="none" d="M652.00 560.00 L655.00 560.00 L657.00 562.00 L657.00 565.00 L655.00 567.00 L652.00 567.00 L650.00 565.00 L650.00 562.00Z"/>
<path d="M638.80 578.50 L668.20 578.50 L653.50 593.10Z"/>
<text transform="translate(600.60 522.60) scale(0.731 1)">C</text>
<path stroke="#111" stroke-width="1.1" stroke-linejoin="bevel" d="M612.20 522.60 L612.20 513.60 L610.00 515.30"/>
<text transform="translate(615.03 522.60) scale(0.913 1)">3</text>
<text transform="translate(600.63 554.60) scale(0.905 1)">0</text>
<text transform="translate(608.63 554.60) scale(0.790 1)">.</text>
<text transform="translate(612.83 554.60) scale(0.905 1)">0</text>
<path stroke="#111" stroke-width="1.1" stroke-linejoin="bevel" d="M624.20 554.60 L624.20 545.60 L622.00 547.30"/>
<text transform="translate(626.64 554.60) scale(0.878 1)">u</text>
<text transform="translate(634.16 554.60) scale(0.763 1)">F</text>
<text transform="translate(655.60 522.60) scale(0.731 1)">C</text>
<text transform="translate(664.25 522.60) scale(0.952 1)">7</text>
<path stroke="#111" stroke-width="1.1" stroke-linejoin="bevel" d="M658.30 554.60 L658.30 545.60 L656.10 547.30"/>
<text transform="translate(660.74 554.60) scale(0.878 1)">u</text>
<text transform="translate(668.26 554.60) scale(0.763 1)">F</text>
<path d="M566.50 595.50 L598.50 595.50 L598.50 638.50"/>
<path d="M588.00 638.50 L609.00 638.50"/>
<path d="M588.00 645.50 L609.00 645.50"/>
<path d="M598.50 645.50 L598.50 689.50 L566.50 689.50"/>
<text transform="translate(600.60 632.30) scale(0.731 1)">C</text>
<text transform="translate(609.36 632.30) scale(0.922 1)">8</text>
<path stroke="#111" stroke-width="1.1" stroke-linejoin="bevel" d="M604.00 664.00 L604.00 655.00 L601.80 656.70"/>
<text transform="translate(606.44 664.00) scale(0.878 1)">u</text>
<text transform="translate(613.96 664.00) scale(0.763 1)">F</text>
<path d="M566.50 750.50 L598.50 750.50 L598.50 764.50"/>
<path d="M583.80 764.50 L613.20 764.50 L598.50 779.10Z"/>
<path d="M672 598.5 L676 598.5" stroke="#ccc"/>
</g>
</svg>
</body></html>
